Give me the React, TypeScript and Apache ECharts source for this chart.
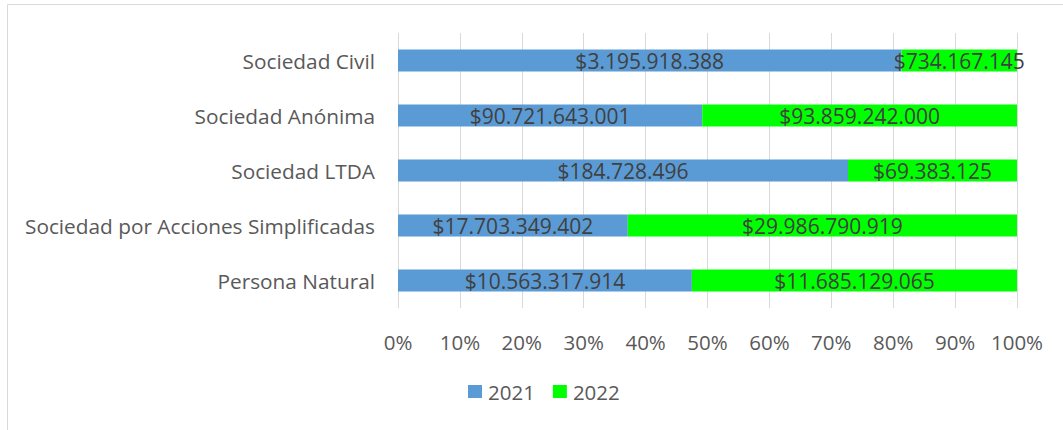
import React, { useEffect, useRef } from "react";
import * as echarts from "echarts";

const categories = [
  "Sociedad Civil",
  "Sociedad Anónima",
  "Sociedad LTDA",
  "Sociedad por Acciones Simplificadas",
  "Persona Natural",
];
const values2021 = [3195918388, 90721643001, 184728496, 17703349402, 10563317914];
const values2022 = [734167145, 93859242000, 69383125, 29986790919, 11685129065];
const tickLabels = ["0%", "10%", "20%", "30%", "40%", "50%", "60%", "70%", "80%", "90%", "100%"];

const fmt = (v: number) => "$" + String(v).replace(/\B(?=(\d{3})+(?!\d))/g, ".");

export default function App() {
  const ref = useRef<HTMLDivElement>(null);
  useEffect(() => {
    if (!ref.current) return;
    const chart = echarts.init(ref.current, null, { renderer: "svg" });
    const totals = values2021.map((v, i) => v + values2022[i]);
    const pct = (arr: number[]) =>
      arr.map((v, i) => ({ value: (v / totals[i]) * 100, raw: v }));
    const font = "'Open Sans', Calibri, sans-serif";
    const labelStyle = {
      show: true,
      position: "inside" as const,
      color: "#404040",
      fontSize: 21,
      fontFamily: font,
      formatter: (p: any) => fmt(p.data.raw),
    };
    chart.setOption({
      animation: false,
      backgroundColor: "#ffffff",
      textStyle: { fontFamily: font },
      graphic: [
        {
          type: "rect",
          shape: { x: 7.5, y: 4.5, width: 1200, height: 600 },
          style: { fill: "none", stroke: "#d9d9d9", lineWidth: 1 },
          silent: true,
          z: -10,
        },
      ],
      grid: { left: 398, right: 46, top: 33, bottom: 122, containLabel: false },
      xAxis: {
        type: "value",
        min: 0,
        max: 100,
        interval: 10,
        axisLine: { show: false },
        axisTick: { show: false },
        splitLine: { show: true, lineStyle: { color: "#d9d9d9", width: 1 } },
        axisLabel: {
          color: "#595959",
          fontSize: 20.5,
          fontFamily: font,
          margin: 23,
          formatter: (v: number) => tickLabels[Math.round(v / 10)],
        },
      },
      yAxis: {
        type: "category",
        data: categories,
        inverse: true,
        axisLine: { show: false },
        axisTick: { show: false },
        axisLabel: { color: "#595959", fontSize: 20.8, fontFamily: font, margin: 23 },
      },
      legend: {
        data: ["2021", "2022"],
        left: 468,
        top: 381,
        padding: 0,
        itemWidth: 14,
        itemHeight: 13,
        itemGap: 18,
        icon: "rect",
        textStyle: { color: "#595959", fontSize: 20.5, fontFamily: font, padding: [0, 0, 0, 1] },
      },
      series: [
        {
          name: "2021",
          type: "bar",
          stack: "total",
          barWidth: 22,
          itemStyle: { color: "#5b9bd5" },
          label: labelStyle,
          data: pct(values2021),
        },
        {
          name: "2022",
          type: "bar",
          stack: "total",
          barWidth: 22,
          itemStyle: { color: "#00ff00" },
          label: labelStyle,
          data: pct(values2022),
        },
      ],
    });
    return () => chart.dispose();
  }, []);
  return (
    <div
      ref={ref}
      style={{ position: "fixed", left: 0, top: 0, width: 1063, height: 430 }}
    />
  );
}
